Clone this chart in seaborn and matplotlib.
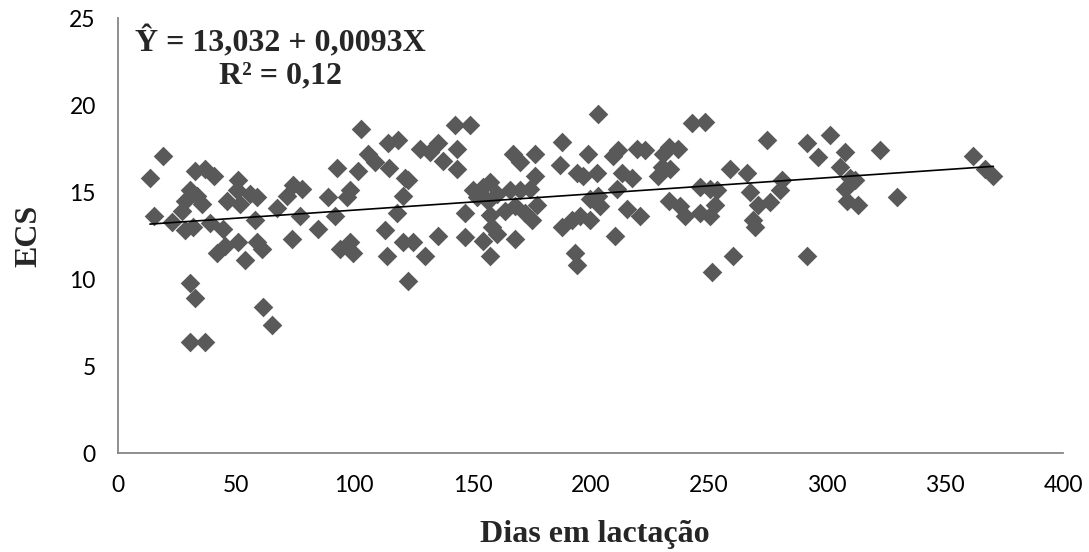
import numpy as np
import pandas as pd
import seaborn as sns
import matplotlib.pyplot as plt

# dias em lactação (x) e ECS (y)
dias = [19.2, 13.5, 15.4, 32.6, 36.8, 40.6, 30.5, 33.3, 28.4, 35.4,
        27.0, 22.7, 28.4, 31.8, 38.9, 44.6, 46.0, 50.9, 51.6, 50.2,
        55.9, 58.7, 58.0, 41.8, 45.3, 50.9, 53.8, 58.7, 60.8, 30.5,
        32.6, 61.5, 65.0, 30.5, 36.8, 67.2, 74.2, 77.7, 71.5, 77.0,
        73.5, 84.8, 89.0, 92.6, 91.8, 98.2, 97.0, 94.0, 98.2, 99.5,
        103.0, 114.4, 118.6, 106.0, 108.8, 101.7, 114.8, 121.5, 122.8, 120.8,
        117.9, 113.0, 120.8, 125.0, 135.6, 113.7, 130.0, 122.9, 127.8, 132.0,
        135.6, 143.3, 137.7, 143.3, 142.6, 149.0, 146.9, 146.9, 150.4, 154.6,
        157.5, 160.3, 151.8, 156.7, 157.5, 158.2, 160.3, 154.6, 157.5, 163.8,
        168.0, 168.0, 165.9, 170.2, 174.4, 167.3, 170.2, 176.5, 176.5, 177.2,
        175.0, 172.3, 187.8, 187.0, 199.0, 194.1, 196.9, 202.6, 187.8, 192.0,
        195.6, 199.8, 199.8, 203.3, 193.4, 194.2, 203.3,
        209.7, 211.8, 219.5, 223.0, 213.2, 217.4, 211.0, 204.0, 215.3, 221.0,
        210.4, 230.8, 233.0, 237.2, 230.1, 233.6, 228.7, 242.8, 248.5, 246.3,
        250.6, 253.4, 233.0, 237.9, 240.0, 246.3, 250.6, 252.7, 251.3, 260.4,
        259.0, 266.1, 267.5, 271.0, 275.9, 280.2, 280.9, 268.9, 269.6, 274.6,
        291.5, 296.4, 301.4, 291.5,
        307.7, 305.6, 309.8, 312.0, 307.7, 308.4, 313.4, 322.5, 329.6, 362.0,
        367.0, 370.5]

ecs = [17.1, 15.8, 13.6, 16.2, 16.3, 15.9, 15.1, 14.8, 14.5, 14.3,
       13.9, 13.3, 12.8, 13.0, 13.2, 12.9, 14.5, 15.7, 14.3, 15.1,
       14.9, 14.7, 13.4, 11.5, 11.9, 12.1, 11.1, 12.1, 11.7, 9.75,
       8.9, 8.4, 7.36, 6.4, 6.4, 14.1, 15.4, 15.2, 14.8, 13.6,
       12.3, 12.9, 14.7, 16.4, 13.6, 15.1, 14.7, 11.7, 12.1, 11.5,
       18.6, 17.8, 18.0, 17.2, 16.7, 16.2, 16.4, 15.8, 15.7, 14.8,
       13.8, 12.8, 12.1, 12.1, 12.5, 11.3, 11.3, 9.9, 17.5, 17.3,
       17.8, 17.5, 16.8, 16.3, 18.85, 18.85, 13.8, 12.4, 15.1, 15.3,
       15.6, 14.9, 14.7, 14.5, 13.7, 13.0, 12.6, 12.2, 11.3, 13.9,
       14.2, 12.3, 15.1, 15.1, 15.2, 17.2, 16.7, 17.2, 15.95, 14.25,
       13.4, 13.8, 17.9, 16.55, 17.2, 16.1, 15.9, 16.1, 13.0, 13.4,
       13.6, 13.4, 14.6, 14.8, 11.5, 10.8, 19.5,
       17.1, 17.4, 17.5, 17.4, 16.1, 15.8, 15.2, 14.2, 14.0, 13.6,
       12.5, 17.2, 17.6, 17.5, 16.45, 16.3, 15.9, 18.95, 19.05, 15.3,
       15.2, 15.1, 14.5, 14.2, 13.6, 13.8, 13.6, 14.25, 10.4, 11.3,
       16.3, 16.1, 15.0, 14.25, 14.45, 15.1, 15.7, 13.4, 13.0, 18.0,
       17.8, 17.0, 18.3, 11.3,
       17.3, 16.45, 15.8, 15.7, 15.2, 14.5, 14.25, 17.4, 14.7, 17.1,
       16.3, 15.9]

# equação ajustada
intercepto = 13.032
inclinacao = 0.0093

df = pd.DataFrame({'dias': dias, 'ecs': ecs})

sns.set_style('white')
plt.rcParams['font.family'] = ['Lato', 'DejaVu Sans']

fig = plt.figure(figsize=(10.89, 5.52), dpi=100)
ax = fig.add_axes([0.1084, 0.1793, 0.8678, 0.788])

sns.scatterplot(data=df, x='dias', y='ecs', marker='D', s=100,
                color='#595959', linewidth=0, ax=ax, zorder=2)

# linha de tendência
x_lin = np.array([df.dias.min(), df.dias.max()])
sns.lineplot(x=x_lin, y=intercepto + inclinacao * x_lin, color='black',
             linewidth=1.2, ax=ax, zorder=3)

ax.set_xlim(0, 400)
ax.set_ylim(0, 25)
ax.set_xticks(range(0, 401, 50))
ax.set_yticks(range(0, 26, 5))

for side in ['top', 'right']:
    ax.spines[side].set_visible(False)
for side in ['left', 'bottom']:
    ax.spines[side].set_color('#868686')
    ax.spines[side].set_linewidth(1.3)

ax.tick_params(axis='both', direction='out', length=5, width=1.2,
               color='#868686', labelsize=16.5, labelcolor='black')
ax.tick_params(axis='x', pad=11)
ax.tick_params(axis='y', pad=11)

serif = dict(family='Liberation Serif', weight='bold')
ax.set_xlabel('Dias em lactação', fontsize=23, **serif)
ax.set_ylabel('ECS', fontsize=23, **serif)
ax.xaxis.set_label_coords(0.505, -0.155)
ax.yaxis.set_label_coords(-0.079, 0.50)

ax.text(68.6, 23.6, 'Ŷ = 13,032 + 0,0093X', ha='center', va='center',
        fontsize=23, **serif)
ax.text(68.6, 21.7, 'R² = 0,12', ha='center', va='center',
        fontsize=23, **serif)

plt.savefig('out.png', dpi=100)
plt.close()
